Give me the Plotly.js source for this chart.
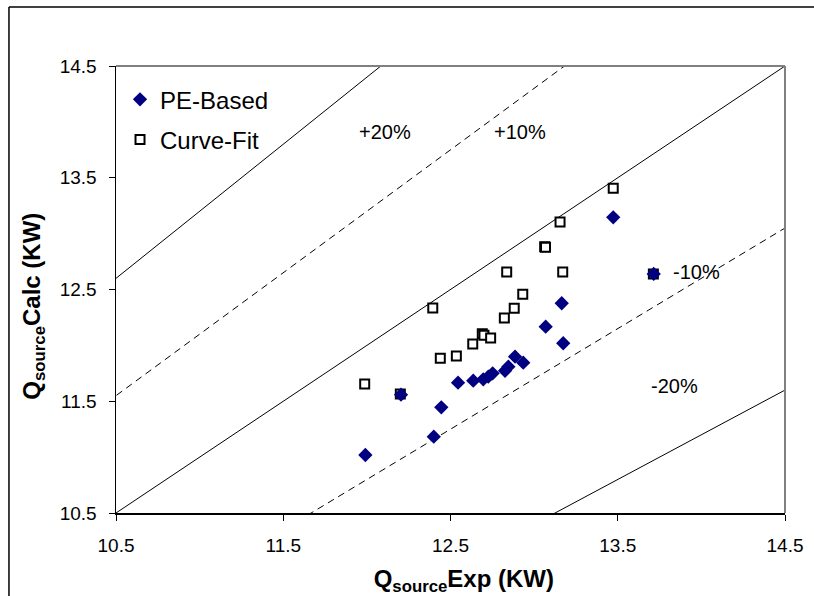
<!DOCTYPE html>
<html>
<head>
<meta charset="utf-8">
<script src="https://cdn.plot.ly/plotly-3.0.1.min.js"></script>
<style>html,body{margin:0;padding:0;background:#fff;}#chart{width:814px;height:596px;}</style>
</head>
<body>
<div id="chart"></div>
<script>
// Measured vs calculated source heat (KW)
var peExp  = [13.473, 13.165, 13.069, 13.174, 12.886, 12.935, 12.846, 12.826, 12.752, 12.726, 12.696, 12.636, 12.545, 12.204, 12.445, 12.400, 11.991, 13.715];
var peCalc = [13.146, 12.377, 12.167, 12.019, 11.899, 11.845, 11.809, 11.773, 11.750, 11.720, 11.696, 11.684, 11.666, 11.559, 11.446, 11.183, 11.019, 12.639];

var cfExp  = [13.155, 13.063, 13.068, 12.836, 13.171, 12.932, 12.881, 12.394, 12.822, 12.690, 12.700, 12.740, 12.633, 12.535, 12.439, 11.987, 12.200, 13.473, 13.713];
var cfCalc = [13.104, 12.883, 12.878, 12.657, 12.657, 12.457, 12.332, 12.334, 12.245, 12.105, 12.090, 12.066, 12.012, 11.905, 11.884, 11.654, 11.565, 13.406, 12.639];

// Reference error bands (fractional deviation) and their styles
var bandDev   = [0, 0.10, -0.10, 0.20, -0.20];
var bandDash  = ['solid', '7px,5px', '7px,5px', 'solid', 'solid'];
var bandLabel = ['', '+10%', '-10%', '+20%', '-20%'];
var bandLabelX = [null, 12.916, 13.972, 12.108, 13.842];
var bandLabelY = [null, 13.909, 12.657, 13.909, 11.636];
var lineExtent = [9, 16];

var tickVals = [10.5, 11.5, 12.5, 13.5, 14.5];
var tickText = ['10.5', '11.5', '12.5', '13.5', '14.5'];

var traces = [];
bandDev.forEach(function (d, i) {
  traces.push({
    x: lineExtent,
    y: lineExtent.map(function (v) { return v * (1 + d); }),
    mode: 'lines', type: 'scatter', showlegend: false, hoverinfo: 'skip',
    line: {color: '#000', width: 1, dash: bandDash[i]}
  });
});
traces.push({
  name: 'Curve-Fit', x: cfExp, y: cfCalc, mode: 'markers', type: 'scatter',
  legendgroup: 'b', legendrank: 2,
  marker: {symbol: 'square', size: 9, color: '#fff', line: {color: '#000', width: 2}}
});
traces.push({
  name: 'PE-Based', x: peExp, y: peCalc, mode: 'markers', type: 'scatter',
  legendgroup: 'a', legendrank: 1,
  marker: {symbol: 'diamond', size: 11, color: '#000080', line: {width: 0}}
});

var annotations = [];
bandDev.forEach(function (d, i) {
  if (!bandLabel[i]) return;
  annotations.push({x: bandLabelX[i], y: bandLabelY[i], xref: 'x', yref: 'y', text: bandLabel[i],
    showarrow: false, font: {family: 'Liberation Sans, Arial', size: 20, color: '#000'}});
});

var F = 'Liberation Sans, Arial, sans-serif';
var NB = '&nbsp;&nbsp;&nbsp;&nbsp;';
var layout = {
  width: 814, height: 596,
  margin: {l: 116, r: 29, t: 66, b: 83},
  paper_bgcolor: '#fff', plot_bgcolor: '#fff',
  showlegend: true,
  legend: {x: 0.006, y: 0.975, xanchor: 'left', yanchor: 'top', bgcolor: 'rgba(0,0,0,0)',
    font: {family: F, size: 24, color: '#000'}, traceorder: 'grouped', tracegroupgap: 6, itemwidth: 30},
  xaxis: {range: [10.5, 14.5], tickmode: 'array', tickvals: tickVals, ticktext: tickText,
    showgrid: false, zeroline: false, showline: true, linecolor: '#000', linewidth: 1.5,
    ticks: 'outside', ticklen: 6, tickcolor: '#000', ticklabelstandoff: 9,
    tickfont: {family: F, size: 19, color: '#000'},
    title: {text: NB + '<b>Q<sub>source</sub>Exp (KW)</b>', font: {family: F, size: 24, color: '#000'}, standoff: 21}},
  yaxis: {range: [10.5, 14.5], tickmode: 'array', tickvals: tickVals, ticktext: tickText,
    showgrid: false, zeroline: false, showline: true, linecolor: '#000', linewidth: 1.5,
    ticks: 'outside', ticklen: 6, tickcolor: '#000', ticklabelstandoff: 8,
    tickfont: {family: F, size: 19, color: '#000'},
    title: {text: '<b>Q<sub>source</sub>Calc (KW)</b>' + NB + '&nbsp;', font: {family: F, size: 24, color: '#000'}, standoff: 12}},
  annotations: annotations,
  shapes: [
    {type: 'line', xref: 'paper', yref: 'paper', x0: 0, x1: 1, y0: 1, y1: 1, line: {color: '#808080', width: 2}},
    {type: 'line', xref: 'paper', yref: 'paper', x0: 1, x1: 1, y0: 0, y1: 1, line: {color: '#808080', width: 2}},
    {type: 'line', xref: 'paper', yref: 'paper', x0: -0.16, x1: 1.05, y0: 1.132, y1: 1.132, line: {color: '#000', width: 1.5}},
    {type: 'line', xref: 'paper', yref: 'paper', x0: -0.16, x1: -0.16, y0: 1.132, y1: -0.2, line: {color: '#000', width: 1.5}}
  ]
};
Plotly.newPlot('chart', traces, layout, {displayModeBar: false, staticPlot: true});
</script>
</body>
</html>
